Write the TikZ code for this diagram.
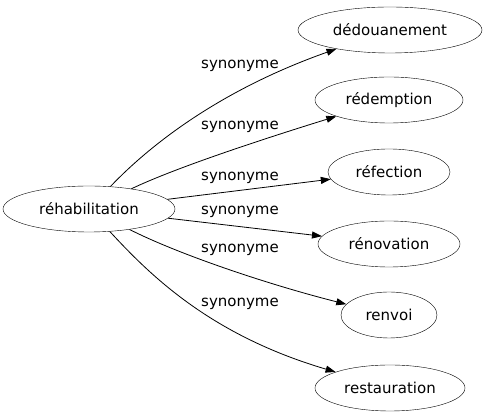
\documentclass[tikz,border=0pt]{standalone}
\usepackage{fontspec}
\setmainfont{DejaVu Sans}
\usetikzlibrary{shapes.geometric,arrows.meta}
\tikzset{
  mot/.style={draw,ellipse,inner sep=0pt,minimum height=46pt,font=\fontsize{15}{18}\selectfont},
  lien/.style={line width=0.8pt,-{Triangle[length=10pt,width=7pt]}},
  etiquette/.style={inner sep=0pt,font=\fontsize{15}{18}\selectfont}
}
\begin{document}
\begin{tikzpicture}[x=1pt,y=1pt]
        \useasboundingbox (0,0) rectangle (485,419);

        \node[mot,minimum width=172pt] (rehab) at (89,210) {réhabilitation};
        \node[mot,minimum width=184pt] (dedou) at (390,389) {dédouanement};
        \node[mot,minimum width=148pt] (redem) at (389,319) {rédemption};
        \node[mot,minimum width=122pt] (refec) at (389,247) {réfection};
        \node[mot,minimum width=142pt] (renov) at (389,175) {rénovation};
        \node[mot,minimum width=96pt] (renvoi) at (389,104) {renvoi};
        \node[mot,minimum width=150pt] (resta) at (390,31) {restauration};

        \node[etiquette] (s1) at (240,353) {synonyme};
        \node[etiquette] (s2) at (240,292) {synonyme};
        \node[etiquette] (s3) at (240,241) {synonyme};
        \node[etiquette] (s4) at (240,207) {synonyme};
        \node[etiquette] (s5) at (240,169) {synonyme};
        \node[etiquette] (s6) at (240,115) {synonyme};

        \draw[lien] (rehab) .. controls (150,274) and (220,329) .. (dedou);
        \draw[lien] (rehab) .. controls (175,251) and (260,279) .. (redem);
        \draw[lien] (rehab) -- (refec);
        \draw[lien] (rehab) -- (renov);
        \draw[lien] (rehab) .. controls (180,164) and (270,134) .. (renvoi);
        \draw[lien] (rehab) .. controls (150,144) and (210,84) .. (resta);
    \end{tikzpicture}
\end{document}
